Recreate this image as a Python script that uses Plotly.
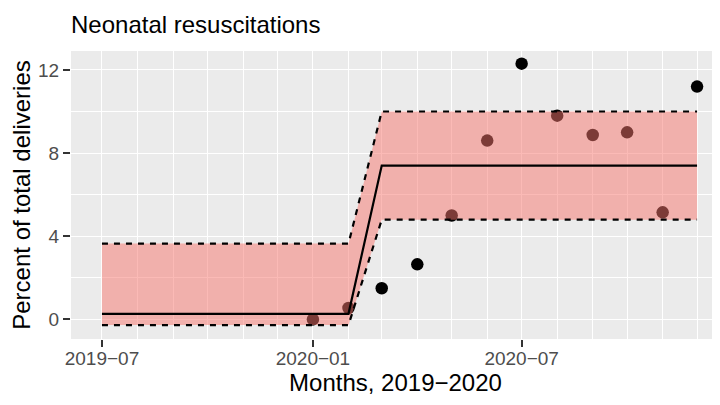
import plotly.graph_objects as go

# ---- data ----
months = ["2019-07-01", "2019-08-01", "2019-09-01", "2019-10-01", "2019-11-01", "2019-12-01",
          "2020-01-01", "2020-02-01", "2020-03-01", "2020-04-01", "2020-05-01", "2020-06-01",
          "2020-07-01", "2020-08-01", "2020-09-01", "2020-10-01", "2020-11-01", "2020-12-01"]
observed = [None, None, None, None, None, None,
            0.0, 0.55, 1.5, 2.65, 5.0, 8.6, 12.3, 9.8, 8.87, 9.0, 5.15, 11.2]
fitted = [0.27] * 8 + [7.4] * 10
upper = [3.65] * 8 + [10.0] * 10
lower = [-0.27] * 8 + [4.8] * 10
x_ticks = ["2019-07-01", "2020-01-01", "2020-07-01"]
y_ticks = [0, 4, 8, 12]

MINUS = "\u2212"
FONT = "Liberation Sans, Arial, sans-serif"

# page body adds ~8px offset; figure sized so it fits the 720x405 window
W, H = 712, 397

fig = go.Figure()
fig.add_trace(go.Scatter(x=months, y=observed, mode="markers",
                         marker=dict(color="black", size=12.5, line=dict(width=0)),
                         showlegend=False, hoverinfo="x+y"))
fig.add_trace(go.Scatter(x=months, y=lower, mode="lines",
                         line=dict(color="black", width=2.2, dash="6px,6px"),
                         showlegend=False))
fig.add_trace(go.Scatter(x=months, y=upper, mode="lines", fill="tonexty",
                         fillcolor="rgba(248,118,109,0.5)",
                         line=dict(color="black", width=2.2, dash="6px,6px"),
                         showlegend=False))
fig.add_trace(go.Scatter(x=months, y=fitted, mode="lines",
                         line=dict(color="black", width=2.2),
                         showlegend=False))

fig.update_layout(
    width=W, height=H,
    margin=dict(l=63, r=0, t=43, b=66, autoexpand=False),
    paper_bgcolor="white", plot_bgcolor="#EBEBEB",
    font=dict(family=FONT, color="black"),
    title=dict(text="Neonatal resuscitations", x=63 / W, xanchor="left",
               y=1 - 17 / H, yanchor="middle",
               font=dict(size=24, family=FONT, color="black")),
    xaxis=dict(
        type="date", range=["2019-06-04", "2020-12-21"],
        tickmode="array", tickvals=x_ticks,
        ticktext=[t[:4] + MINUS + t[5:7] for t in x_ticks],
        ticks="outside", ticklen=7, tickwidth=2, tickcolor="#333333",
        ticklabelstandoff=-5,
        tickfont=dict(size=19, color="#4D4D4D", family=FONT),
        showgrid=True, gridcolor="white", gridwidth=1.1,
        minor=dict(dtick="M1", tick0="2019-07-01", showgrid=True,
                   gridcolor="white", gridwidth=0.55, ticks=""),
        zeroline=False, showline=False, automargin=False,
        title=dict(text="Months, 2019" + MINUS + "2020", standoff=6,
                   font=dict(size=24, family=FONT, color="black")),
    ),
    yaxis=dict(
        range=[-0.94, 12.91],
        tickmode="array", tickvals=y_ticks,
        ticks="outside", ticklen=7, tickwidth=2, tickcolor="#333333",
        tickfont=dict(size=19, color="#4D4D4D", family=FONT),
        showgrid=True, gridcolor="white", gridwidth=1.1,
        minor=dict(dtick=2, tick0=0, showgrid=True,
                   gridcolor="white", gridwidth=0.55, ticks=""),
        zeroline=False, showline=False, automargin=False,
        title=dict(text="Percent of total deliveries", standoff=4,
                   font=dict(size=24, family=FONT, color="black")),
    ),
)

fig.write_html("out.html")
